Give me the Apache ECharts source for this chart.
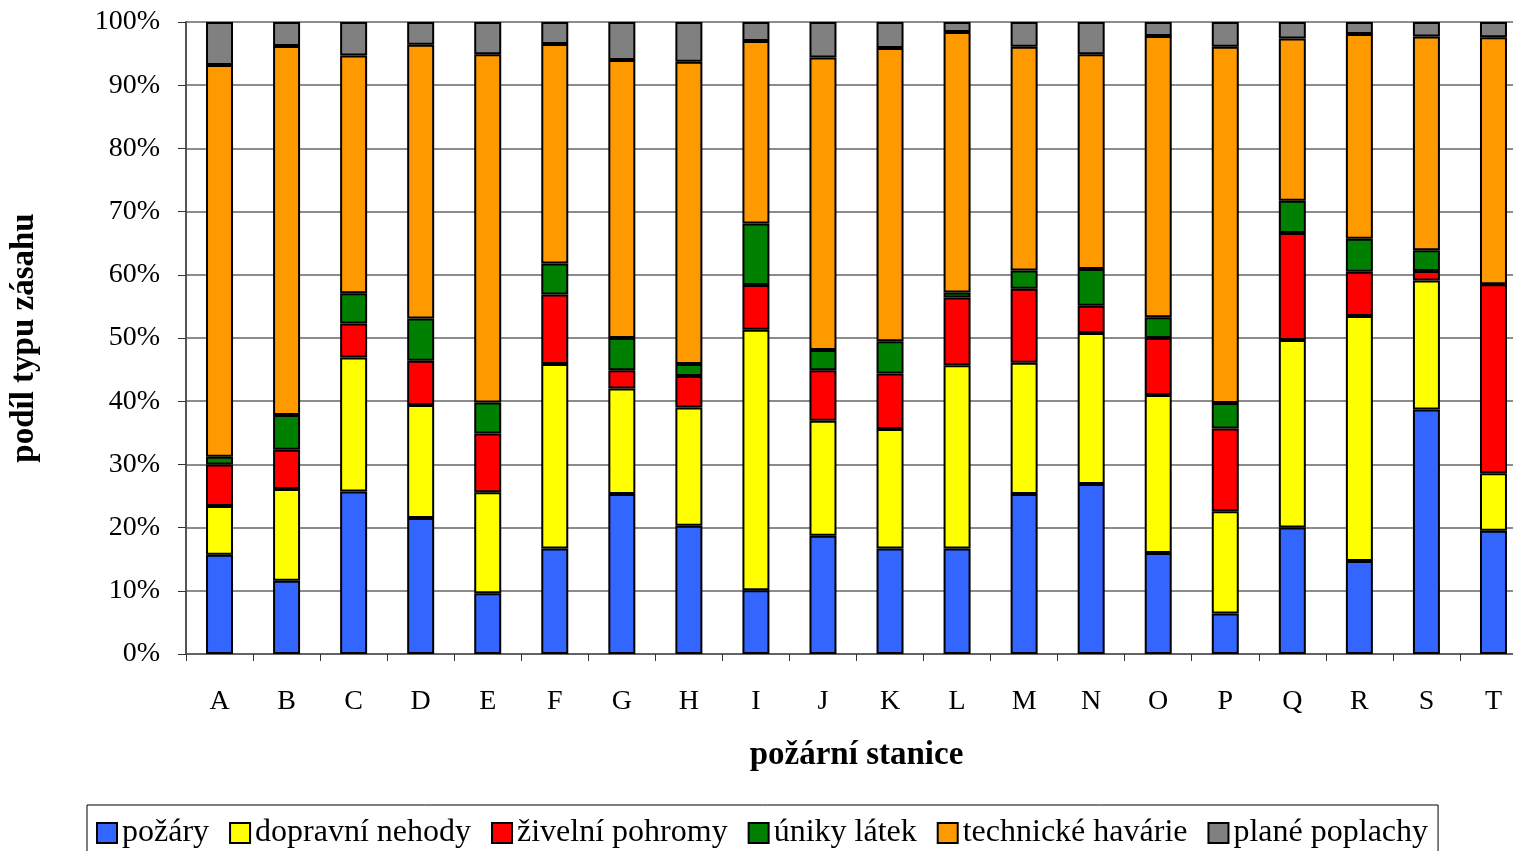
<!DOCTYPE html>
<html>
<head>
<meta charset="utf-8">
<script src="https://cdn.jsdelivr.net/npm/echarts@6/dist/echarts.min.js"></script>
<style>
html,body{margin:0;padding:0;background:#fff;overflow:hidden;}
#c{width:1527px;height:851px;}
</style>
</head>
<body>
<div id="c"></div>
<script>
const categories = ['A','B','C','D','E','F','G','H','I','J','K','L','M','N','O','P','Q','R','S','T'];
const pozary = [15.7, 11.6, 25.7, 21.5, 9.6, 16.7, 25.3, 20.3, 10.1, 18.7, 16.7, 16.7, 25.3, 26.9, 16.0, 6.4, 20.0, 14.7, 38.7, 19.5];
const dopravniNehody = [7.7, 14.5, 21.2, 17.9, 16.0, 29.2, 16.7, 18.7, 41.2, 18.2, 18.9, 29.0, 20.8, 23.9, 25.0, 16.2, 29.7, 38.8, 20.4, 9.1];
const zivelniPohromy = [6.6, 6.2, 5.4, 7.0, 9.3, 11.0, 2.9, 5.0, 7.1, 8.0, 8.8, 10.7, 11.7, 4.3, 9.0, 13.1, 16.9, 7.0, 1.5, 29.9];
const unikyLatek = [1.2, 5.5, 4.8, 6.7, 4.9, 4.9, 5.1, 1.9, 9.7, 3.2, 5.1, 0.8, 2.9, 5.8, 3.3, 4.0, 5.1, 5.2, 3.3, 0];
const technickeHavarie = [62.0, 58.4, 37.6, 43.3, 55.1, 34.7, 44.0, 47.8, 28.9, 46.3, 46.4, 41.2, 35.4, 34.0, 44.5, 56.4, 25.7, 32.4, 33.8, 39.1];
const planePoplachy = [6.8, 3.8, 5.3, 3.6, 5.1, 3.5, 6.0, 6.3, 3.0, 5.6, 4.1, 1.6, 3.9, 5.1, 2.2, 3.9, 2.6, 1.9, 2.3, 2.4];
const yTicks = [0,10,20,30,40,50,60,70,80,90,100];

const seriesDefs = [
  {name:'požáry', data:pozary, color:'#3366FF'},
  {name:'dopravní nehody', data:dopravniNehody, color:'#FFFF00'},
  {name:'živelní pohromy', data:zivelniPohromy, color:'#FF0000'},
  {name:'úniky látek', data:unikyLatek, color:'#008000'},
  {name:'technické havárie', data:technickeHavarie, color:'#FF9900'},
  {name:'plané poplachy', data:planePoplachy, color:'#808080'}
];

const font = '"Liberation Serif", "Times New Roman", serif';
const chart = echarts.init(document.getElementById('c'), null, {renderer:'canvas'});
chart.setOption({
  animation:false,
  backgroundColor:'#fff',
  textStyle:{fontFamily:font},
  grid:{left:184, right:0, top:22, height:632, containLabel:false},
  legend:{
    top:805, left:87,
    itemWidth:20, itemHeight:20, itemGap:20,
    padding:[12,10,10,9],
    borderColor:'#000', borderWidth:1,
    icon:'rect',
    textStyle:{fontFamily:font, fontSize:32, color:'#000'},
    data:seriesDefs.map(s=>s.name)
  },
  xAxis:{
    type:'category', data:categories,
    name:'požární stanice', nameLocation:'middle', nameGap:85,
    nameTextStyle:{fontFamily:font, fontSize:33, fontWeight:'bold', color:'#000'},
    axisLine:{lineStyle:{color:'#555', width:1.5}},
    axisTick:{show:true, alignWithLabel:false, length:7, lineStyle:{color:'#333'}},
    axisLabel:{fontFamily:font, fontSize:28, color:'#000', margin:34}
  },
  yAxis:{
    type:'value', min:0, max:100, interval:10,
    name:'podíl typu zásahu', nameLocation:'middle', nameGap:145, nameRotate:90,
    nameTextStyle:{fontFamily:font, fontSize:33, fontWeight:'bold', color:'#000'},
    axisLine:{show:true, lineStyle:{color:'#555', width:2}},
    axisTick:{show:true, length:8, lineStyle:{color:'#333'}},
    axisLabel:{fontFamily:font, fontSize:28, color:'#000', margin:26,
      formatter:v=> yTicks.includes(v) ? v+'%' : ''},
    splitLine:{show:true, lineStyle:{color:'#666', width:1.5}}
  },
  series:seriesDefs.map(s=>({
    name:s.name, type:'bar', stack:'total', data:s.data, barWidth:27,
    itemStyle:{color:s.color, borderColor:'#000', borderWidth:2}
  }))
});
</script>
</body>
</html>
